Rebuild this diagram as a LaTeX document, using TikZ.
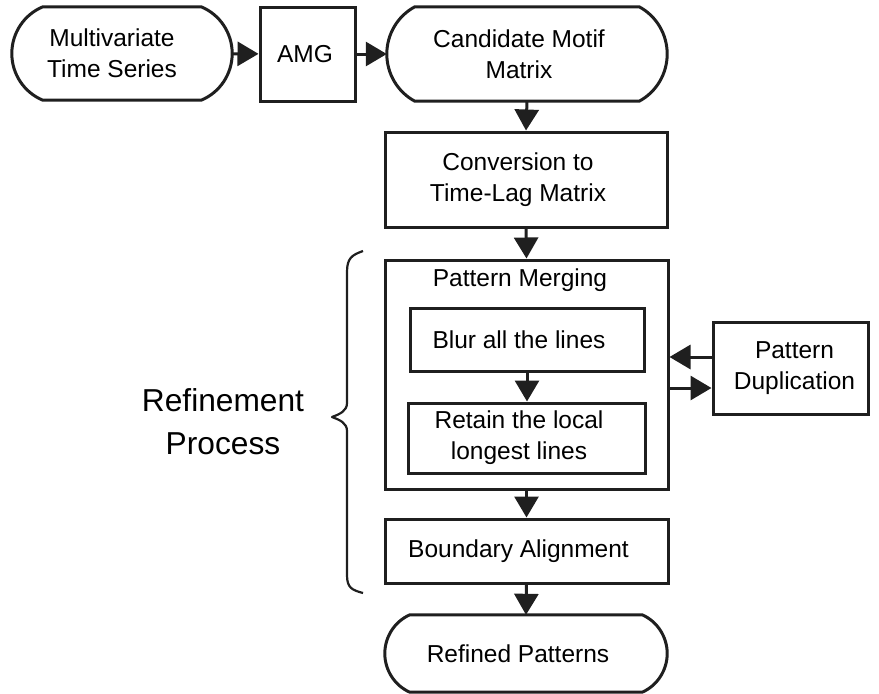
\documentclass[tikz,border=0pt]{standalone}
\usepackage{fontspec}
\setmainfont{Liberation Sans}
\usetikzlibrary{arrows.meta,calc}

\tikzset{
  boxline/.style={line width=3pt, draw=black!88},
  box/.style={boxline, rectangle, inner sep=0pt},
  termbox/.style={rectangle, draw=none, inner sep=0pt},
  lbl/.style={align=center, inner sep=0pt, xshift=-8pt,
    font=\fontsize{24.5}{31}\selectfont},
  txt/.style={label={[lbl]center:{#1}}},
  arr/.style={line width=3pt, draw=black!88,
    -{Triangle[length=21pt,width=24pt]}},
}

% terminal outline whose ends are shallow circular arcs
% #1 node name, #2 cap depth, #3/#4 horizontal/vertical offset of the
% first arc control point, #5 vertical offset of the second one
\newcommand\termoutline[5]{%
  \draw[boxline, line join=round]
    ($(#1.north west)+(#2,0)$) -- ($(#1.north east)+(-#2,0)$)
    .. controls ($(#1.north east)+(-#2+#3,#4)$) and ($(#1.east)+(0,-#5)$) .. (#1.east)
    .. controls ($(#1.east)+(0,#5)$) and ($(#1.south east)+(-#2+#3,-#4)$) .. ($(#1.south east)+(-#2,0)$)
    -- ($(#1.south west)+(#2,0)$)
    .. controls ($(#1.south west)+(#2-#3,-#4)$) and ($(#1.west)+(0,#5)$) .. (#1.west)
    .. controls ($(#1.west)+(0,-#5)$) and ($(#1.north west)+(#2-#3,#4)$) .. cycle;}

\begin{document}
\begin{tikzpicture}[x=1pt,y=-1pt]
  \useasboundingbox (0,0) rectangle (879,694);

  % top row
  \node[termbox, minimum width=220pt, minimum height=93pt,
    label={[lbl, xshift=-2pt]center:{Multivariate\\Time Series}}] (t1) at (122,53.5) {};
  \termoutline{t1}{31}{18.8}{7.8}{20.4}
  \node[box, minimum width=95pt, minimum height=94pt,
    label={[lbl, xshift=5.5pt]center:AMG}] (amg) at (307.5,54) {};
  \node[termbox, minimum width=280pt, minimum height=94pt,
    txt={Candidate Motif\\Matrix}] (t2) at (527,54) {};
  \termoutline{t2}{28}{17.3}{9.3}{19.6}

  % main column
  \node[box, minimum width=282pt, minimum height=95pt,
    txt={Conversion to\\Time-Lag Matrix}] (conv) at (526,179.5) {};
  \node[box, minimum width=283pt, minimum height=229pt] (pm) at (526.5,374.5) {};
  \node[font=\fontsize{24.5}{31}\selectfont, anchor=base, inner sep=0pt] (pmtitle)
    at (520,286) {Pattern Merging};
  \node[box, minimum width=234pt, minimum height=63pt,
    txt={Blur all the lines}] (blur) at (527,339.5) {};
  \node[box, minimum width=237pt, minimum height=70pt,
    txt={Retain the local\\longest lines}] (retain) at (527,438) {};
  \node[box, minimum width=155pt, minimum height=92pt,
    label={[lbl, xshift=12pt]center:{Pattern\\Duplication}}] (pd) at (790.5,368) {};
  \node[box, minimum width=283pt, minimum height=64pt,
    txt={Boundary Alignment}] (bound) at (526.5,551) {};
  \node[termbox, minimum width=282pt, minimum height=77pt,
    txt={Refined Patterns}] (t3) at (526,653.5) {};
  \termoutline{t3}{25}{15.2}{6.7}{16.6}

  % connectors
  \draw[arr] (t1) -- (amg);
  \draw[arr] (amg) -- (t2);
  \draw[arr] (t2.south) -- (conv.north);
  \draw[arr] (conv.south) -- (pm.north);
  \draw[arr] (blur.south) -- (retain.north);
  \draw[arr] ([yshift=11pt]pd.west) -- ([yshift=11pt]pd.west -| pm.east);
  \draw[arr] ([yshift=-20pt]pd.west -| pm.east) -- ([yshift=-20pt]pd.west);
  \draw[arr] (pm.south) -- (bound.north);
  \draw[arr] (bound.south) -- (t3.north);

  % brace grouping the refinement steps
  \draw[line width=2.2pt, draw=black!88, line join=round]
    (363,251) .. controls (352,255) and (347,258) .. (347,272)
    -- (347,403) .. controls (347,411) and (340,414) .. (332,417)
    .. controls (340,420) and (347,423) .. (347,431)
    -- (347,575) .. controls (347,588) and (352,590) .. (363,593);
  \node[align=center, inner sep=0pt, font=\fontsize{31.7}{43}\selectfont]
    (refine) at (223,422) {Refinement\\Process};
\end{tikzpicture}
\end{document}
